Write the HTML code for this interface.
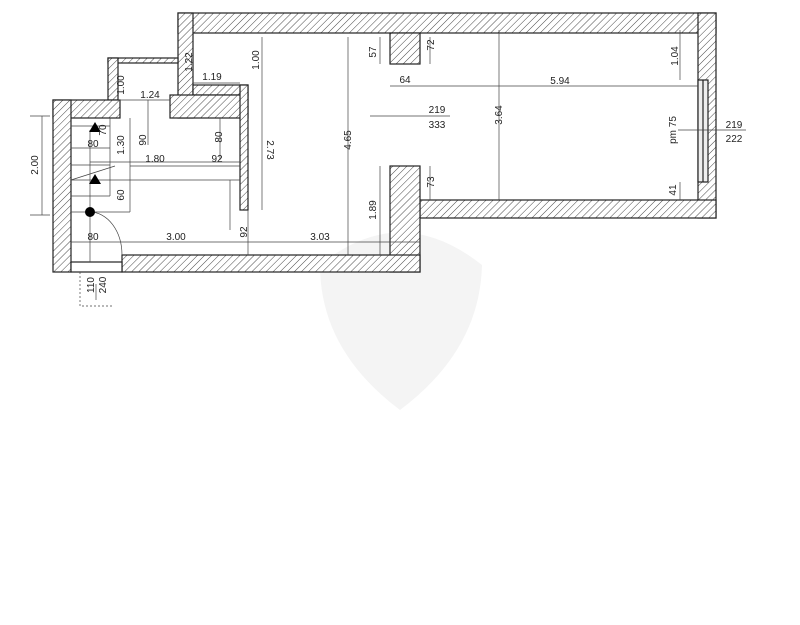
<!DOCTYPE html>
<html><head><meta charset="utf-8"><style>
html,body{margin:0;padding:0;background:#fff;width:800px;height:625px;overflow:hidden}
svg{display:block}
text{font-family:"Liberation Sans",sans-serif;font-size:10px;fill:#222}
</style></head><body>
<svg width="800" height="625" viewBox="0 0 800 625" xmlns="http://www.w3.org/2000/svg">
<defs>
<pattern id="h" width="5" height="5" patternUnits="userSpaceOnUse" patternTransform="rotate(45)">
<rect width="5" height="5" fill="#fff"/><line x1="0" y1="0" x2="0" y2="5" stroke="#333" stroke-width="0.9"/>
</pattern>
</defs>
<!-- watermark -->
<path d="M320 265 Q400 200 482 265 Q480 350 400 410 Q320 350 320 265Z" fill="#f4f4f4"/>
<g stroke="#222" stroke-width="1.2">
<!-- walls -->
<rect x="178" y="13" width="538" height="20" fill="url(#h)"/>
<rect x="178" y="13" width="15" height="105" fill="url(#h)"/>
<rect x="698" y="13" width="18" height="205" fill="url(#h)"/>
<rect x="420" y="200" width="296" height="18" fill="url(#h)"/>
<rect x="390" y="33" width="30" height="31" fill="url(#h)"/>
<rect x="390" y="166" width="30" height="106" fill="url(#h)"/>
<rect x="193" y="85" width="55" height="10" fill="url(#h)"/>
<rect x="170" y="95" width="78" height="23" fill="url(#h)"/>
<rect x="240" y="85" width="8" height="125" fill="url(#h)"/>
<rect x="108" y="58" width="70" height="5" fill="url(#h)"/>
<rect x="108" y="58" width="10" height="42" fill="url(#h)"/>
<rect x="53" y="100" width="67" height="18" fill="url(#h)"/>
<rect x="53" y="100" width="18" height="172" fill="url(#h)"/>
<rect x="122" y="255" width="298" height="17" fill="url(#h)"/>
<rect x="71" y="262" width="51" height="10" fill="#fff"/>
<!-- window -->
<rect x="698" y="80" width="10" height="102" fill="#eee"/>
<line x1="703" y1="80" x2="703" y2="182"/>
</g>
<g stroke="#444" stroke-width="0.7" fill="none">
<!-- stairs -->
<line x1="71" y1="126" x2="110" y2="126"/><line x1="71" y1="148" x2="110" y2="148"/>
<line x1="71" y1="165" x2="110" y2="165"/><line x1="71" y1="180" x2="130" y2="180"/>
<line x1="71" y1="196" x2="110" y2="196"/><line x1="71" y1="212" x2="130" y2="212"/>
<line x1="110" y1="118" x2="110" y2="196"/><line x1="130" y1="118" x2="130" y2="212"/>
<line x1="71" y1="180" x2="115" y2="166"/>
<line x1="90" y1="130" x2="90" y2="212"/>
<line x1="130" y1="166" x2="240" y2="166"/><line x1="130" y1="180" x2="240" y2="180"/>
<!-- door -->
<path d="M90 212 A32 43 0 0 1 122 255"/><line x1="90" y1="212" x2="90" y2="262"/>
<!-- dims -->
<line x1="71" y1="242" x2="420" y2="242"/>
<line x1="248" y1="210" x2="248" y2="255"/>
<line x1="262" y1="37" x2="262" y2="210"/>
<line x1="348" y1="37" x2="348" y2="255"/>
<line x1="380" y1="166" x2="380" y2="255"/><line x1="380" y1="37" x2="380" y2="64"/>
<line x1="420" y1="86" x2="698" y2="86"/><line x1="390" y1="86" x2="420" y2="86"/>
<line x1="499" y1="30" x2="499" y2="200"/>
<line x1="430" y1="37" x2="430" y2="64"/><line x1="430" y1="166" x2="430" y2="200"/>
<line x1="680" y1="30" x2="680" y2="80"/><line x1="680" y1="182" x2="680" y2="200"/>
<line x1="370" y1="116" x2="450" y2="116"/>
<line x1="678" y1="130" x2="746" y2="130"/>
<line x1="193" y1="83" x2="240" y2="83"/>
<line x1="148" y1="100" x2="148" y2="145"/>
<line x1="118" y1="100" x2="170" y2="100"/>
<line x1="220" y1="118" x2="220" y2="160"/>
<line x1="90" y1="162" x2="240" y2="162"/>
<line x1="230" y1="180" x2="230" y2="230"/>
<line x1="42" y1="116" x2="42" y2="215"/>
<line x1="30" y1="116" x2="50" y2="116"/><line x1="30" y1="215" x2="50" y2="215"/>
<path d="M80 272 V306 H112" stroke-dasharray="2 2"/>
<line x1="96" y1="284" x2="96" y2="300"/>
</g>
<polygon points="95,122 89,132 101,132" fill="#000"/>
<polygon points="95,174 89,184 101,184" fill="#000"/>
<circle cx="90" cy="212" r="5" fill="#000"/>
<g>
<text x="212" y="80" text-anchor="middle">1.19</text>
<text x="150" y="98" text-anchor="middle">1.24</text>
<text x="405" y="83" text-anchor="middle">64</text>
<text x="560" y="84" text-anchor="middle">5.94</text>
<text x="437" y="113" text-anchor="middle">219</text>
<text x="437" y="128" text-anchor="middle">333</text>
<text x="734" y="128" text-anchor="middle">219</text>
<text x="734" y="142" text-anchor="middle">222</text>
<text x="93" y="147" text-anchor="middle" font-size="9">80</text>
<text x="155" y="162" text-anchor="middle">1.80</text>
<text x="217" y="162" text-anchor="middle">92</text>
<text x="93" y="240" text-anchor="middle">80</text>
<text x="176" y="240" text-anchor="middle">3.00</text>
<text x="320" y="240" text-anchor="middle">3.03</text>
<text transform="translate(192,62) rotate(-90)" text-anchor="middle">1.22</text>
<text transform="translate(259,60) rotate(-90)" text-anchor="middle">1.00</text>
<text transform="translate(376,52) rotate(-90)" text-anchor="middle">57</text>
<text transform="translate(434,45) rotate(-90)" text-anchor="middle">72</text>
<text transform="translate(678,56) rotate(-90)" text-anchor="middle">1.04</text>
<text transform="translate(124,85) rotate(-90)" text-anchor="middle">1.00</text>
<text transform="translate(502,115) rotate(-90)" text-anchor="middle">3.64</text>
<text transform="translate(146,140) rotate(-90)" text-anchor="middle">90</text>
<text transform="translate(222,137) rotate(-90)" text-anchor="middle">80</text>
<text transform="translate(267,150) rotate(90)" text-anchor="middle">2.73</text>
<text transform="translate(351,140) rotate(-90)" text-anchor="middle">4.65</text>
<text transform="translate(124,145) rotate(-90)" text-anchor="middle">1.30</text>
<text transform="translate(106,130) rotate(-90)" text-anchor="middle" font-size="9">70</text>
<text transform="translate(676,130) rotate(-90)" text-anchor="middle">pm 75</text>
<text transform="translate(434,182) rotate(-90)" text-anchor="middle">73</text>
<text transform="translate(676,190) rotate(-90)" text-anchor="middle">41</text>
<text transform="translate(124,195) rotate(-90)" text-anchor="middle">60</text>
<text transform="translate(376,210) rotate(-90)" text-anchor="middle">1.89</text>
<text transform="translate(247,232) rotate(-90)" text-anchor="middle">92</text>
<text transform="translate(94,285) rotate(-90)" text-anchor="middle">110</text>
<text transform="translate(106,285) rotate(-90)" text-anchor="middle">240</text>
<text transform="translate(38,165) rotate(-90)" text-anchor="middle">2.00</text>
</g>
</svg>
</body></html>
